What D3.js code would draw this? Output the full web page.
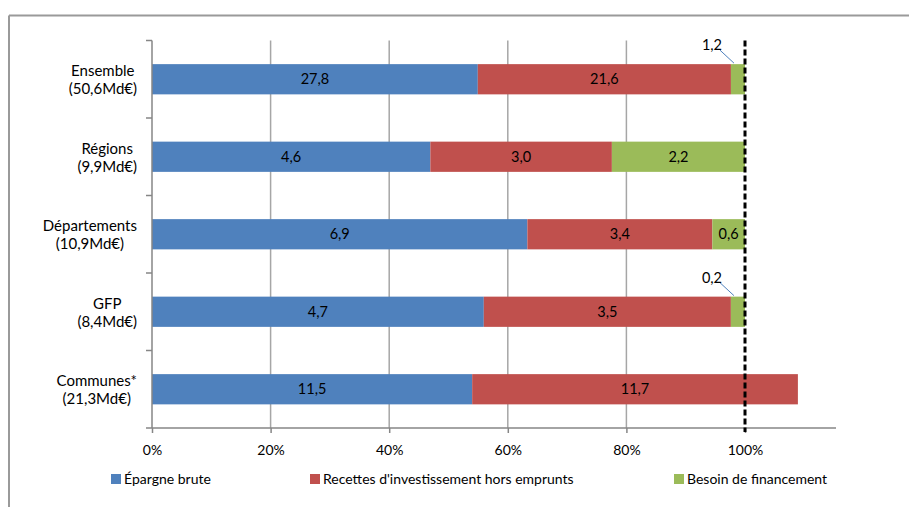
<!DOCTYPE html>
<html>
<head>
<meta charset="utf-8">
<script src="https://cdn.jsdelivr.net/npm/d3@7"></script>
<style>
  html, body { margin: 0; padding: 0; background: #fff; }
  svg { display: block; font-family: Lato, "Open Sans", sans-serif; }
</style>
</head>
<body>
<svg id="chart" width="909" height="507"></svg>
<script>
// Financement de l'investissement par niveau de collectivité (Md€)
const categories = ["Ensemble", "Régions", "Départements", "GFP", "Communes*"];
const totals = [50.6, 9.9, 10.9, 8.4, 21.3];
const epargneBrute = [27.8, 4.6, 6.9, 4.7, 11.5];
const recettesInvest = [21.6, 3.0, 3.4, 3.5, 11.7];
const besoinFinancement = [1.2, 2.2, 0.6, 0.2, 0];
const seriesNames = ["Épargne brute", "Recettes d'investissement hors emprunts", "Besoin de financement"];
const seriesColors = ["#4F81BD", "#C0504D", "#9BBB59"];
const tickValues = [0, 0.2, 0.4, 0.6, 0.8, 1.0];

const fmt = v => d3.format(".1f")(v).replace(".", ",");

const svg = d3.select("#chart");

// outer frame
svg.append("line").attr("x1", 9).attr("x2", 909).attr("y1", 15.5).attr("y2", 15.5)
  .attr("stroke", "#9a9a9a").attr("stroke-width", 2);
svg.append("line").attr("x1", 9).attr("x2", 9).attr("y1", 15.5).attr("y2", 507)
  .attr("stroke", "#9a9a9a").attr("stroke-width", 2);

const plotLeft = 152, plotRight100 = 745, axisEnd = 836;
const plotTop = 40.5, plotBottom = 428;

const x = d3.scaleLinear().domain([0, 1]).range([plotLeft, plotRight100]);
const y = d3.scaleBand().domain(categories).range([plotTop, plotBottom]).paddingInner(0.61).paddingOuter(0.305);

// shares of the investment spending; when a financing need exists it closes
// the gap, so the three components together make up the whole spending
const rows = categories.map((c, i) => {
  const vals = [epargneBrute[i], recettesInvest[i], besoinFinancement[i]];
  const denom = besoinFinancement[i] > 0 ? d3.sum(vals) : totals[i];
  let acc = 0;
  return vals.map((v, k) => {
    const s = v / denom;
    const seg = { cat: c, k, value: v, x0: acc, x1: acc + s };
    acc += s;
    return seg;
  });
});

// gridlines
svg.append("g").selectAll("line").data(tickValues.filter(t => t > 0 && t < 1)).join("line")
  .attr("x1", d => x(d)).attr("x2", d => x(d))
  .attr("y1", plotTop).attr("y2", plotBottom)
  .attr("stroke", "#a6a6a6").attr("stroke-width", 1.5);

// bars
const segs = rows.flat().filter(d => d.value > 0);
svg.append("g").selectAll("rect").data(segs).join("rect")
  .attr("x", d => x(d.x0))
  .attr("y", d => y(d.cat))
  .attr("width", d => x(d.x1) - x(d.x0))
  .attr("height", y.bandwidth())
  .attr("fill", d => seriesColors[d.k]);

// x axis
const xAxis = d3.axisBottom(x).tickValues(tickValues).tickFormat(d3.format(".0%")).tickSize(5).tickPadding(12);
const gx = svg.append("g").attr("transform", `translate(0,${plotBottom})`).call(xAxis);
gx.select(".domain").remove();
gx.append("line").attr("x1", plotLeft).attr("x2", axisEnd).attr("y1", 0).attr("y2", 0)
  .attr("stroke", "#868686").attr("stroke-width", 1.5);
gx.selectAll(".tick line").attr("stroke", "#868686").attr("stroke-width", 1.5);
gx.selectAll(".tick text").attr("fill", "#000").attr("font-size", 14).attr("font-family", "Lato, sans-serif");

// y axis: line and ticks at category boundaries
const step = y.step();
const bounds = d3.range(categories.length + 1).map(i => plotTop + i * step);
svg.append("line").attr("x1", plotLeft).attr("x2", plotLeft).attr("y1", plotTop).attr("y2", plotBottom)
  .attr("stroke", "#868686").attr("stroke-width", 1.5);
svg.append("g").selectAll("line").data(bounds).join("line")
  .attr("x1", plotLeft - 6).attr("x2", plotLeft).attr("y1", d => d).attr("y2", d => d)
  .attr("stroke", "#868686").attr("stroke-width", 1.5);

// category labels (two lines, centred together, block right-aligned)
categories.forEach((c, i) => {
  const cy = y(c) + y.bandwidth() / 2;
  const g = svg.append("g");
  const lines = [c, `(${fmt(totals[i])}Md€)`];
  const texts = lines.map((t, j) => g.append("text")
    .attr("y", cy + (j === 0 ? -3 : 15))
    .attr("font-size", 15).attr("fill", "#000").attr("text-anchor", "middle").text(t));
  const w = d3.max(texts, t => t.node().getComputedTextLength());
  texts.forEach(t => t.attr("x", 137 - w / 2));
});

// 100 % reference line
svg.append("line").attr("x1", x(1)).attr("x2", x(1)).attr("y1", plotTop).attr("y2", plotBottom + 4)
  .attr("stroke", "#000").attr("stroke-width", 3).attr("stroke-dasharray", "6,3");

// value labels
const inside = segs.filter(d => (x(d.x1) - x(d.x0)) > 25);
svg.append("g").selectAll("text").data(inside).join("text")
  .attr("x", d => (x(d.x0) + x(d.x1)) / 2)
  .attr("y", d => y(d.cat) + y.bandwidth() / 2 + 5)
  .attr("text-anchor", "middle").attr("font-size", 14.5).attr("fill", "#000")
  .text(d => fmt(d.value));

// small segments labelled above with a leader line
const outside = segs.filter(d => (x(d.x1) - x(d.x0)) <= 25);
const og = svg.append("g");
outside.forEach(d => {
  const mx = (x(d.x0) + x(d.x1)) / 2;
  const by = y(d.cat);
  og.append("line").attr("x1", mx - 18).attr("y1", by - 14).attr("x2", mx - 4).attr("y2", by - 1)
    .attr("stroke", "#4F81BD").attr("stroke-width", 1);
  og.append("text").attr("x", mx - 26).attr("y", by - 14)
    .attr("text-anchor", "middle").attr("font-size", 14.5).attr("fill", "#000").text(fmt(d.value));
});

// legend
const legendX = [111, 310, 674];
const lg = svg.append("g");
seriesNames.forEach((n, k) => {
  lg.append("rect").attr("x", legendX[k]).attr("y", 474).attr("width", 10).attr("height", 10).attr("fill", seriesColors[k]);
  lg.append("text").attr("x", legendX[k] + 13).attr("y", 484).attr("font-size", 14).attr("fill", "#000").text(n);
});
</script>
</body>
</html>
